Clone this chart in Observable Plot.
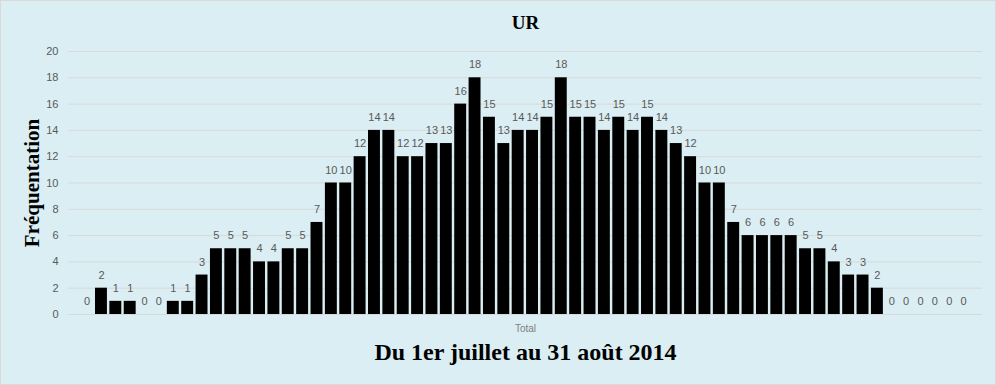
<!DOCTYPE html>
<html>
<head>
<meta charset="utf-8">
<script src="https://cdn.jsdelivr.net/npm/d3@7"></script>
<script src="https://cdn.jsdelivr.net/npm/@observablehq/plot@0.6"></script>
<style>
  html, body { margin: 0; padding: 0; background: #ffffff; }
  #chart { width: 996px; height: 385px; box-sizing: border-box; border: 1px solid #d9d9d9; background: #DAEEF3; overflow: hidden; }
  #chart svg { display: block; }
</style>
</head>
<body>
<div id="chart"></div>
<script>
const chartTitle = "UR";
const yTitle = "Fréquentation";
const xTitle = "Du 1er juillet au 31 août 2014";
const categoryLabel = "Total";
const yTicks = [0, 2, 4, 6, 8, 10, 12, 14, 16, 18, 20];
// daily frequentation, 1 July -> 31 August 2014 (62 days)
const values = [0, 2, 1, 1, 0, 0, 1, 1, 3, 5, 5, 5, 4, 4, 5, 5, 7, 10, 10, 12,
  14, 14, 12, 12, 13, 13, 16, 18, 15, 13, 14, 14, 15, 18, 15, 15, 14, 15, 14, 15,
  14, 13, 12, 10, 10, 7, 6, 6, 6, 6, 5, 5, 4, 3, 3, 2, 0, 0, 0, 0, 0, 0];

const data = values.map((v, i) => ({day: i, value: v}));
const labelFont = "'Liberation Sans', Arial, sans-serif";
const serif = "'Liberation Serif', 'Times New Roman', serif";

const chart = Plot.plot({
  width: 994,
  height: 383,
  marginTop: 50,
  marginBottom: 70,
  marginLeft: 67,
  marginRight: 13,
  style: {background: "transparent", fontFamily: labelFont},
  x: {type: "band", domain: data.map(d => d.day), paddingInner: 0.17, paddingOuter: 0.085, range: [78.4, 969.3], round: false, axis: null},
  y: {domain: [0, 20], axis: null},
  marks: [
    Plot.gridY(yTicks, {stroke: "#d9d9d9", strokeOpacity: 1}),
    Plot.axisY(yTicks, {tickSize: 0, tickPadding: 10, fill: "#595959", fontSize: 11, label: null}),
    Plot.ruleY([0], {stroke: "#d9d9d9", strokeWidth: 1.2}),
    Plot.barY(data, {x: "day", y: "value", fill: "#000000"}),
    Plot.text(data, {x: "day", y: "value", text: d => String(d.value), dy: -13, fill: "#595959", fontSize: 11, fontFamily: labelFont}),
    Plot.text([categoryLabel], {frameAnchor: "bottom", dy: 17, fill: "#7f7f7f", fontSize: 10, fontFamily: labelFont}),
    Plot.text([chartTitle], {frameAnchor: "top", dy: -36, fill: "#000", fontSize: 19, fontWeight: "bold", fontFamily: serif}),
    Plot.text([xTitle], {frameAnchor: "bottom", dy: 45, fill: "#000", fontSize: 24, fontWeight: "bold", fontFamily: serif}),
    Plot.text([yTitle], {frameAnchor: "left", textAnchor: "middle", rotate: -90, dx: -36, fill: "#000", fontSize: 21, fontWeight: "bold", fontFamily: serif})
  ]
});
document.getElementById("chart").appendChild(chart);
</script>
</body>
</html>
